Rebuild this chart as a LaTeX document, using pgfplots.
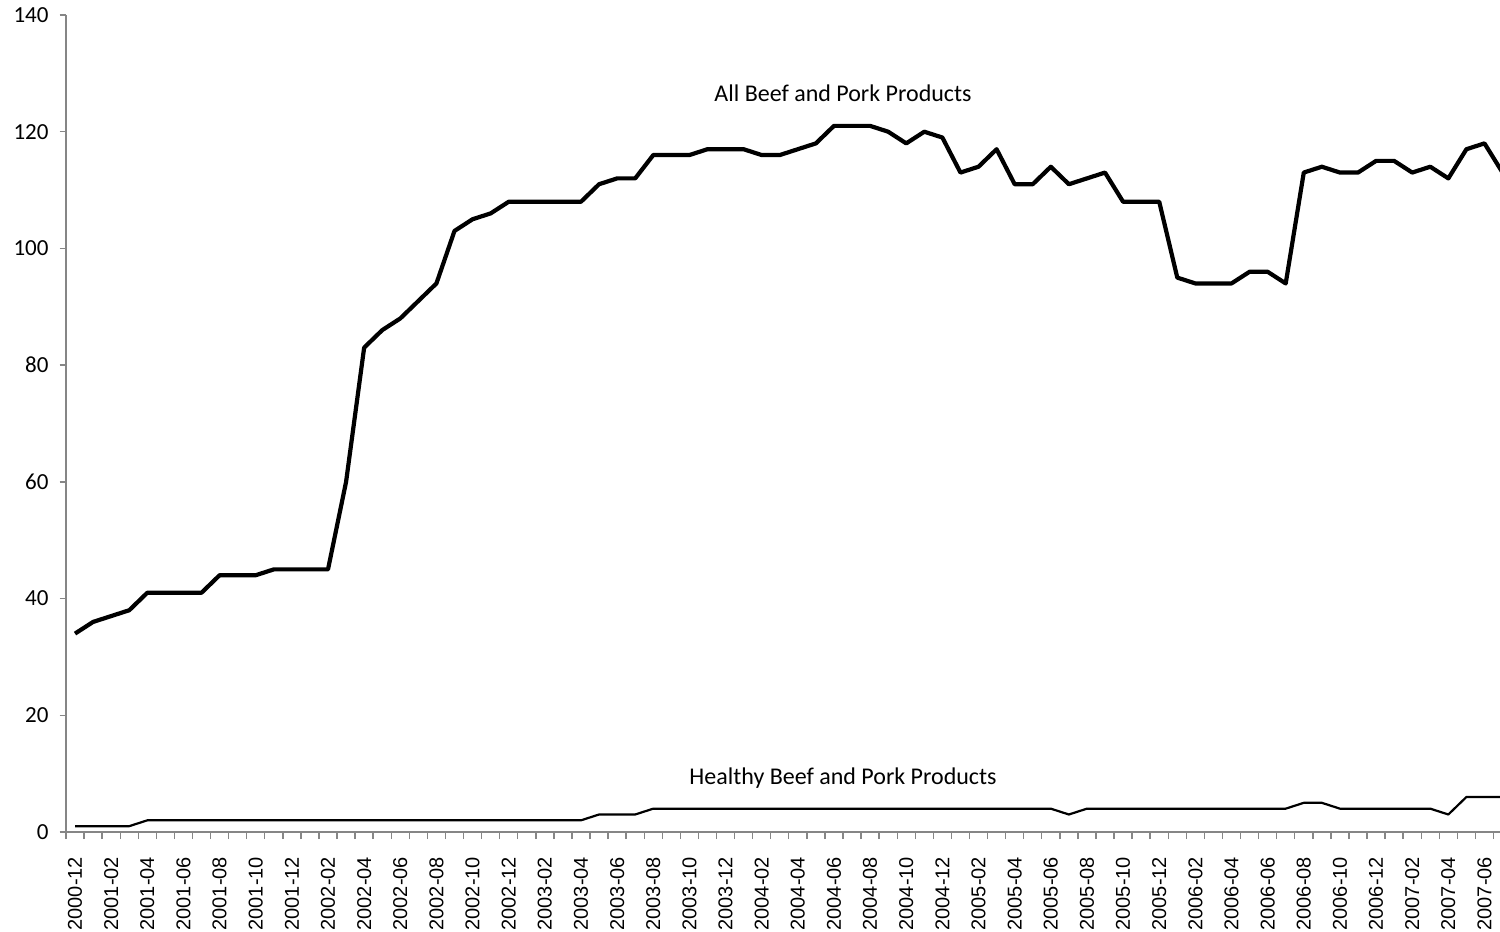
\documentclass[border=0pt]{standalone}
\usepackage{pgfplots}
\usepackage{pgfplotstable}
\pgfplotsset{compat=1.18}
\usepackage{fontspec}
\setmainfont{Carlito}
\newfontfamily\arialfont{Liberation Sans}

\pgfplotstableread{
i all healthy
0 34 1
1 36 1
2 37 1
3 38 1
4 41 2
5 41 2
6 41 2
7 41 2
8 44 2
9 44 2
10 44 2
11 45 2
12 45 2
13 45 2
14 45 2
15 60 2
16 83 2
17 86 2
18 88 2
19 91 2
20 94 2
21 103 2
22 105 2
23 106 2
24 108 2
25 108 2
26 108 2
27 108 2
28 108 2
29 111 3
30 112 3
31 112 3
32 116 4
33 116 4
34 116 4
35 117 4
36 117 4
37 117 4
38 116 4
39 116 4
40 117 4
41 118 4
42 121 4
43 121 4
44 121 4
45 120 4
46 118 4
47 120 4
48 119 4
49 113 4
50 114 4
51 117 4
52 111 4
53 111 4
54 114 4
55 111 3
56 112 4
57 113 4
58 108 4
59 108 4
60 108 4
61 95 4
62 94 4
63 94 4
64 94 4
65 96 4
66 96 4
67 94 4
68 113 5
69 114 5
70 113 4
71 113 4
72 115 4
73 115 4
74 113 4
75 114 4
76 112 3
77 117 6
78 118 6
79 113 6
}\datatable

\definecolor{axgray}{RGB}{134,134,134}

\begin{document}
\begin{tikzpicture}
\begin{axis}[
  at={(0,0)}, anchor=south west,
  scale only axis,
  width=722.8pt, height=408.5pt,
  xmin=-0.5, xmax=79.5, ymin=0, ymax=140,
  axis lines*=left,
  axis line style={color=axgray, line width=0.7pt},
  tick align=outside,
  ytick={0,20,...,140},
  major tick length=3.2pt,
  y tick style={color=axgray, line width=0.7pt},
  yticklabel style={font=\fontsize{11.5}{12}\selectfont, xshift=-2pt},
  /pgf/number format/assume math mode=true,
  xtick={0,2,...,78},
  xticklabels={2000-12,2001-02,2001-04,2001-06,2001-08,2001-10,2001-12,2002-02,2002-04,2002-06,2002-08,2002-10,2002-12,2003-02,2003-04,2003-06,2003-08,2003-10,2003-12,2004-02,2004-04,2004-06,2004-08,2004-10,2004-12,2005-02,2005-04,2005-06,2005-08,2005-10,2005-12,2006-02,2006-04,2006-06,2006-08,2006-10,2006-12,2007-02,2007-04,2007-06},
  x tick style={draw=none},
  minor xtick={-0.5,0.5,...,79.5},
  minor x tick style={draw=axgray, line width=0.7pt},
  minor tick length=3.5pt,
  xticklabel style={rotate=90, anchor=east, font=\arialfont\fontsize{10}{11}\selectfont, xshift=-5.8pt},
  clip=true,
]
\addplot[black, line width=2.1pt, line join=round] table[x=i, y=all] {\datatable};
\addplot[black, line width=1.1pt, line join=round] table[x=i, y=healthy] {\datatable};
\node[font=\fontsize{12}{14}\selectfont] at (axis cs:42.5,126.6) {All Beef and Pork Products};
\node[font=\fontsize{12}{14}\selectfont] at (axis cs:42.5,9.25) {Healthy Beef and Pork Products};
\end{axis}
\pgfresetboundingbox
\path[use as bounding box] (-33pt,-50pt) rectangle (717pt,416pt);
\end{tikzpicture}
\end{document}
